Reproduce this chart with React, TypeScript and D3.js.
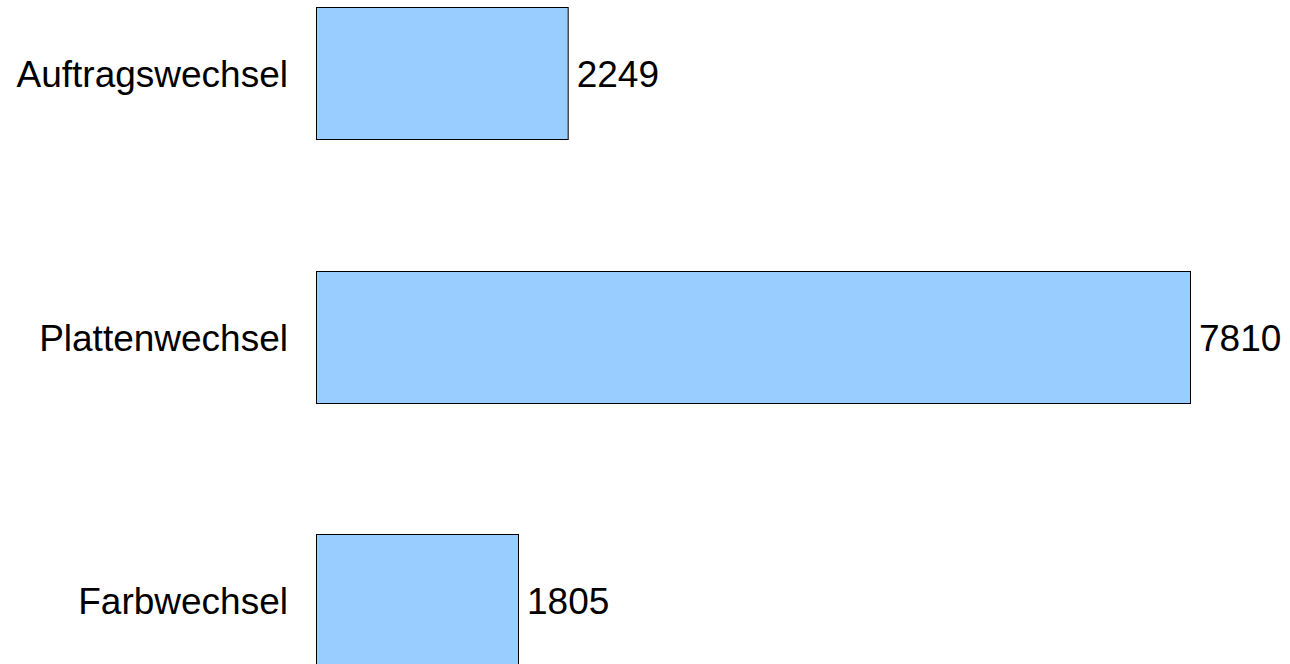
import React from "react";
import * as d3 from "d3";

const categories = ["Auftragswechsel", "Plattenwechsel", "Farbwechsel"];
const values = [2249, 7810, 1805];

export default function App() {
  const W = 1290;
  const H = 664;
  const x = d3.scaleLinear().domain([0, 7810]).range([316, 1190]);
  const y = d3
    .scaleBand<string>()
    .domain(categories)
    .range([-59, 732])
    .paddingInner(0.5)
    .paddingOuter(0.25);
  const fs = 37;
  return (
    <svg
      width={W}
      height={H}
      style={{ position: "absolute", left: 0, top: 0, display: "block", overflow: "hidden" }}
      fontFamily="'Liberation Sans', Arial, sans-serif"
    >
      <rect x={0} y={0} width={W} height={H} fill="#ffffff" />
      {categories.map((c, i) => {
        const y0 = y(c)!;
        const bw = y.bandwidth();
        const cy = y0 + bw / 2;
        return (
          <g key={c}>
            <rect
              x={x(0) + 0.5}
              y={Math.round(y0) + 0.5}
              width={x(values[i]) - x(0)}
              height={Math.round(bw)}
              fill="#99ccff"
              stroke="#000000"
              strokeWidth={1}
            />
            <text x={288} y={cy + 14} textAnchor="end" fontSize={fs} fill="#000">
              {c}
            </text>
            <text x={x(values[i]) + 9} y={cy + 14} textAnchor="start" fontSize={fs} fill="#000">
              {values[i]}
            </text>
          </g>
        );
      })}
    </svg>
  );
}
